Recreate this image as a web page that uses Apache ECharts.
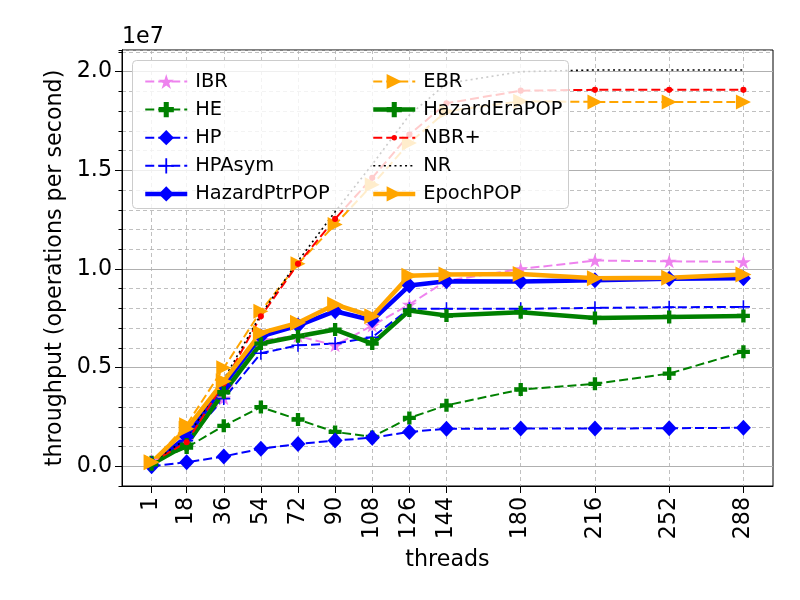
<!DOCTYPE html>
<html>
<head>
<meta charset="utf-8">
<script src="https://cdn.jsdelivr.net/npm/echarts@6/dist/echarts.min.js"></script>
<style>
html, body { margin: 0; padding: 0; background: #fff; }
#main { width: 800px; height: 600px; }
</style>
</head>
<body>
<div id="main"></div>
<script>
// x 轴：线程数
var threads = [1, 18, 36, 54, 72, 90, 108, 126, 144, 180, 216, 252, 288];

// 吞吐量，单位 1e7 次/秒
var ibr = [0.03, 0.13, 0.345, 0.64, 0.66, 0.613, 0.713, 0.82, 0.94, 1.0, 1.043, 1.039, 1.036];
var he = [0.02, 0.095, 0.205, 0.30, 0.237, 0.174, 0.149, 0.245, 0.309, 0.389, 0.418, 0.47, 0.58];
var hp = [0.0, 0.02, 0.05, 0.089, 0.113, 0.13, 0.145, 0.174, 0.19, 0.191, 0.191, 0.193, 0.195];
var hpAsym = [0.01, 0.13, 0.343, 0.573, 0.613, 0.622, 0.654, 0.798, 0.798, 0.798, 0.803, 0.806, 0.808];
var hazardPtrPOP = [0.01, 0.15, 0.41, 0.659, 0.713, 0.786, 0.74, 0.916, 0.938, 0.936, 0.943, 0.95, 0.953];
var ebr = [0.02, 0.21, 0.499, 0.786, 1.026, 1.225, 1.427, 1.639, 1.80, 1.85, 1.847, 1.847, 1.847];
var hazardEraPOP = [0.01, 0.11, 0.375, 0.622, 0.659, 0.693, 0.622, 0.789, 0.764, 0.781, 0.752, 0.757, 0.762];
var nbrPlus = [0.02, 0.122, 0.42, 0.76, 1.026, 1.254, 1.462, 1.681, 1.84, 1.904, 1.908, 1.908, 1.908];
var nr = [0.02, 0.14, 0.44, 0.77, 1.04, 1.29, 1.53, 1.78, 1.94, 2.0, 2.009, 2.009, 2.009];
var epochPOP = [0.02, 0.19, 0.431, 0.676, 0.727, 0.82, 0.76, 0.966, 0.972, 0.975, 0.953, 0.956, 0.972];

// y 轴主刻度
var yTicks = [0, 0.5, 1.0, 1.5, 2.0];

var FONT = 'DejaVu Sans';

// 标记形状
var STAR = 'path://M0,-1L0.2245,-0.309L0.9511,-0.309L0.3633,0.118L0.5878,0.809L0,0.382L-0.5878,0.809L-0.3633,0.118L-0.9511,-0.309L-0.2245,-0.309Z';
var FAT_PLUS = 'path://M-1,-3H1V-1H3V1H1V3H-1V1H-3V-1H-1Z';
var THIN_PLUS = 'path://M-0.12,-1H0.12V-0.12H1V0.12H0.12V1H-0.12V0.12H-1V-0.12H-0.12Z';
var TRI_RIGHT = 'path://M-1,-1L1,0L-1,1Z';
// 小圆点，外面两个空点撑开包围盒
var DOT_SMALL = 'path://M-1,-1L-1,-1ZM1,1L1,1ZM0,-0.36A0.36,0.36,0,1,1,0,0.36A0.36,0.36,0,1,1,0,-0.36Z';

function pairs(ys) {
	var out = [];
	for (var i = 0; i < threads.length; i++) {
		out.push([threads[i], ys[i]]);
	}
	return out;
}

function line(name, ys, color, width, type, symbol, size) {
	return {
		name: name,
		type: 'line',
		data: pairs(ys),
		symbol: symbol,
		symbolSize: size,
		showSymbol: symbol !== 'none',
		itemStyle: { color: color },
		lineStyle: { color: color, width: width, type: type },
		emphasis: { disabled: true },
		silent: true
	};
}

var DASH = [9, 4];
var DOT = [2, 3.3];

var legendBase = {
	orient: 'vertical',
	top: 67,
	z: 60,
	itemWidth: 42,
	itemHeight: 19,
	itemGap: 9.1,
	lineStyle: { width: 'inherit' },
	textStyle: { fontSize: 19.4, color: '#000', fontFamily: FONT, padding: [0, 0, 0, 3] },
	selectedMode: false
};

function legendAt(left, names) {
	var l = {};
	for (var k in legendBase) l[k] = legendBase[k];
	l.left = left;
	l.data = names;
	return l;
}

var option = {
	animation: false,
	backgroundColor: '#fff',
	textStyle: { fontFamily: FONT },
	grid: {
		left: 122,
		right: 27,
		top: 50,
		bottom: 114,
		show: true,
		borderColor: '#000',
		borderWidth: 1,
		backgroundColor: 'transparent'
	},
	xAxis: {
		type: 'value',
		min: -13.35,
		max: 302.35,
		name: 'threads',
		nameLocation: 'middle',
		nameGap: 63,
		nameTextStyle: { fontSize: 22.2, color: '#000', fontFamily: FONT },
		axisLine: { show: true, onZero: false, lineStyle: { color: '#000', width: 1 } },
		axisTick: { show: true, length: 7, customValues: threads, lineStyle: { color: '#000' } },
		axisLabel: {
			customValues: threads,
			rotate: 90,
			fontSize: 22.2,
			color: '#000',
			fontFamily: FONT,
			margin: 11
		},
		splitLine: { show: true, lineStyle: { color: '#b0b0b0', width: 0.8, type: [4, 3] } }
	},
	yAxis: [{
		type: 'value',
		min: -0.1,
		max: 2.11,
		interval: 0.1,
		position: 'left',
		axisLine: { show: true, onZero: false, lineStyle: { color: '#000' } },
		axisTick: { show: true, length: 3.5, lineStyle: { color: '#000' } },
		axisLabel: { show: false },
		splitLine: { show: true, lineStyle: { color: '#b0b0b0', width: 0.8, type: [4, 3] } }
	}, {
		type: 'value',
		min: -0.1,
		max: 2.11,
		position: 'left',
		name: 'throughput (operations per second)',
		nameLocation: 'middle',
		nameGap: 56,
		nameRotate: 90,
		nameTextStyle: { fontSize: 22.2, color: '#000', fontFamily: FONT },
		axisLine: { show: true, onZero: false, lineStyle: { color: '#000' } },
		axisTick: { show: true, length: 7, customValues: yTicks, lineStyle: { color: '#000' } },
		axisLabel: {
			customValues: yTicks,
			fontSize: 22.2,
			color: '#000',
			fontFamily: FONT,
			margin: 10,
			formatter: function (v) { return v.toFixed(1); }
		},
		splitLine: { show: true, lineStyle: { color: '#b0b0b0', width: 1 } }
	}],
	legend: [
		legendAt(138, ['IBR', 'HE', 'HP', 'HPAsym', 'HazardPtrPOP']),
		legendAt(366, ['EBR', 'HazardEraPOP', 'NBR+', { name: 'NR', itemStyle: { opacity: 0 } }, 'EpochPOP'])
	],
	graphic: [{
		type: 'rect',
		z: 50,
		shape: { x: 132.5, y: 60.5, width: 436, height: 148, r: 4 },
		style: { fill: 'rgba(255,255,255,0.8)', stroke: '#cccccc', lineWidth: 1 }
	}, {
		type: 'text',
		left: 122,
		top: 26,
		style: { text: '1e7', font: '22.2px "DejaVu Sans"', fill: '#000' }
	}],
	series: [
		line('IBR', ibr, '#ee82ee', 2, DASH, STAR, [15, 14]),
		line('HE', he, '#008000', 2, DASH, FAT_PLUS, 13),
		line('HP', hp, '#0000ff', 2, DASH, 'diamond', [15, 16]),
		line('HPAsym', hpAsym, '#0000ff', 2, DASH, THIN_PLUS, 13),
		line('HazardPtrPOP', hazardPtrPOP, '#0000ff', 4.5, 'solid', 'diamond', [15, 16]),
		line('EBR', ebr, '#ffa500', 2, DASH, TRI_RIGHT, 15),
		line('HazardEraPOP', hazardEraPOP, '#008000', 4.5, 'solid', FAT_PLUS, 13),
		line('NBR+', nbrPlus, '#ff0000', 2, DASH, DOT_SMALL, 17),
		line('NR', nr, '#000000', 1.6, DOT, 'none', 0),
		line('EpochPOP', epochPOP, '#ffa500', 4.5, 'solid', TRI_RIGHT, 16)
	]
};

var chart = echarts.init(document.getElementById('main'));
chart.setOption(option);
</script>
</body>
</html>
